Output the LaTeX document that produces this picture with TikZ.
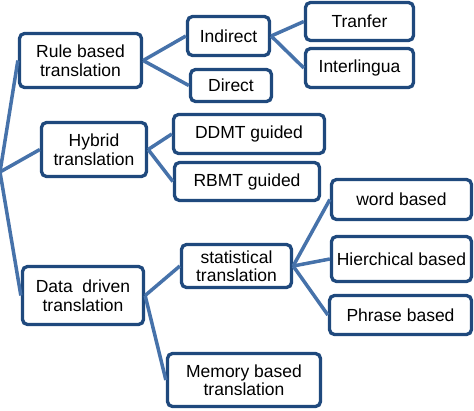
\documentclass[tikz,border=0pt]{standalone}
\usepackage{fontspec}
\setmainfont{Liberation Sans}
\definecolor{boxblue}{RGB}{31,73,125}
\definecolor{lineblue}{RGB}{70,114,170}
\tikzset{
  box/.style={draw=boxblue, line width=3.3pt, rounded corners=5pt, fill=white,
    align=center, inner sep=0pt, font=\fontsize{17.5}{18.5}\selectfont},
  link/.style={draw=lineblue, line width=3.5pt}
}
\begin{document}
\begin{tikzpicture}[x=1pt,y=-1pt]

            \useasboundingbox (0,0) rectangle (474,410);
            \coordinate (root) at (0,172);
            % first level
            \node[box, minimum width=122pt, minimum height=54pt] (rule) at (80.5,60.5) {Rule based\\translation};
            \node[box, minimum width=105pt, minimum height=54pt] (hybrid) at (94,149.5) {Hybrid\\translation};
            \node[box, minimum width=121pt, minimum height=58pt] (data) at (83,295.5) {Data\ \ driven\\translation};
            % rule based
            \node[box, minimum width=82pt, minimum height=39pt] (indirect) at (228.5,36) {Indirect};
            \node[box, minimum width=81pt, minimum height=32pt] (direct) at (231,85.5) {Direct};
            \node[box, minimum width=108pt, minimum height=38pt] (tranfer) at (359.5,21.5) {Tranfer};
            \node[box, minimum width=108pt, minimum height=39pt] (inter) at (359.5,68) {Interlingua};
            % hybrid
            \node[box, minimum width=151pt, minimum height=39pt] (ddmt) at (249,134) {DDMT guided};
            \node[box, minimum width=145pt, minimum height=38pt] (rbmt) at (247,181.5) {RBMT guided};
            % data driven
            \node[box, minimum width=110pt, minimum height=43pt] (stat) at (236.5,266) {statistical\\translation};
            \node[box, minimum width=153pt, minimum height=53pt] (memory) at (244,380) {Memory based\\translation};
            \node[box, minimum width=140pt, minimum height=40pt] (word) at (401.5,199.5) {word based};
            \node[box, minimum width=140pt, minimum height=45pt] (hier) at (401.5,259) {Hierchical based};
            \node[box, minimum width=142pt, minimum height=39pt] (phrase) at (400.5,315) {Phrase based};

            \draw[link] (root) -- (rule.west);
            \draw[link] (root) -- (hybrid.west);
            \draw[link] (root) -- (data.west);
            \draw[link] (rule.east) -- (indirect.west);
            \draw[link] (rule.east) -- (direct.west);
            \draw[link] (indirect.east) -- (tranfer.west);
            \draw[link] (indirect.east) -- (inter.west);
            \draw[link] (hybrid.east) -- (ddmt.west);
            \draw[link] (hybrid.east) -- (rbmt.west);
            \draw[link] (data.east) -- (stat.west);
            \draw[link] (data.east) -- (memory.west);
            \draw[link] (stat.east) -- (word.west);
            \draw[link] (stat.east) -- (hier.west);
            \draw[link] (stat.east) -- (phrase.west);
        \end{tikzpicture}
\end{document}
